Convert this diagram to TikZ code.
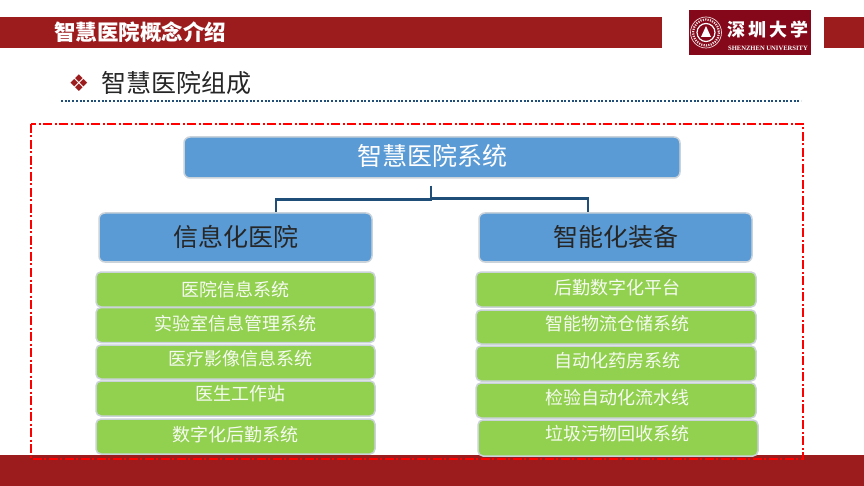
\documentclass[tikz,border=0pt]{standalone}
\usepackage{fontspec}
\setmainfont{Noto Sans CJK SC}
\newfontfamily\symfont{DejaVu Sans}
\newfontfamily\logofont{Liberation Serif}
\definecolor{barred}{HTML}{9C1C1E}
\definecolor{logored}{HTML}{85081A}
\definecolor{boxblue}{HTML}{5B9BD5}
\definecolor{boxgreen}{HTML}{92D050}
\definecolor{boxedge}{HTML}{CBD3DA}
\definecolor{linkblue}{HTML}{1F4E79}
\newcommand{\sizedfont}[1]{\fontsize{#1}{#1}\selectfont}
\newcommand{\offsettext}[3]{\hspace*{#1pt}\raisebox{#2pt}[0pt][0pt]{#3}}
\tikzset{
    bar/.style={fill=barred, draw=none},
    bluebox/.style={draw=boxedge, line width=1.5pt, fill=boxblue, rounded corners=6pt, inner sep=0pt},
    greenbox/.style={draw=boxedge, line width=1.5pt, fill=boxgreen, rounded corners=5pt, inner sep=0pt, minimum width=279, text=white!92!boxgreen, font=\sizedfont{18}},
    elbow/.style={draw=linkblue, line width=2.4pt}
}

\begin{document}
\begin{tikzpicture}[x=1pt, y=-1pt]
    \useasboundingbox (0,0) rectangle (864,486);
    \fill[white] (0,0) rectangle (864,486);
    \fill[bar] (0,17) rectangle (662,48);
    \fill[bar] (824,17) rectangle (864,48);
    \fill[bar] (0,455) rectangle (864,486);
    \node[text=white, font=\sizedfont{21.5}\bfseries, inner sep=0pt] (pagetitle) at (140,32) {智慧医院概念介绍};

    \fill[logored] (689,10) rectangle (811,55);
    \draw[white!85!logored, line width=0.7pt] (706,32.5) circle (15.5);
    \draw[white!85!logored, line width=2.2pt, dash pattern=on 1.2pt off 1.2pt] (706,32.5) circle (13);
    \draw[white, line width=1.2pt] (706,32.5) circle (9);
    \fill[white] (706,26) -- (711,37) -- (701,37) -- cycle;
    \node[text=white, font=\sizedfont{18}\bfseries, inner sep=0pt] (logoname) at (768,30) {深\hspace{3pt}圳\hspace{3pt}大\hspace{3pt}学};
    \node[text=white, font=\logofont\sizedfont{6.6}\bfseries, inner sep=0pt] (logosub) at (768,48) {SHENZHEN UNIVERSITY};

    \node[text=barred, font=\symfont\sizedfont{23}, inner sep=0pt] (bullet) at (79,83) {❖};
    \node[text=black!85, font=\sizedfont{25}, inner sep=0pt] (sectiontitle) at (176,83) {智慧医院组成};
    \coordinate (ruleleft) at (61,101.5);
    \coordinate (ruleright) at (801,101.5);
    \draw[linkblue, line width=2pt, dash pattern=on 2pt off 1.7pt] (ruleleft) -- (ruleright);

    \draw[red, line width=2pt, dash pattern=on 9pt off 2.5pt on 2pt off 2.5pt] (31,124) rectangle (803,458.5);

    \node[bluebox, minimum width=496, minimum height=41, text=white, font=\sizedfont{25}] (system) at (432,157.5) {\offsettext{0}{-8}{智慧医院系统}};
    \node[bluebox, minimum width=273, minimum height=49, text=black!85, font=\sizedfont{25}] (info) at (235.5,237.5) {\offsettext{0}{-9}{信息化医院}};
    \node[bluebox, minimum width=273, minimum height=49, text=black!85, font=\sizedfont{25}] (smart) at (615.5,237.5) {\offsettext{0}{-9}{智能化装备}};

    \coordinate (stub) at (431,186);
    \coordinate (dropinfo) at (276,212);
    \coordinate (dropsmart) at (588,212);
    \draw[elbow] (stub) -- (431,199.5) -| (dropinfo);
    \draw[elbow] (stub) -- (431,198.5) -| (dropsmart);

    \node[greenbox, minimum height=35] (info1) at (235.5,289.5) {\offsettext{0}{-7}{医院信息系统}};
    \node[greenbox, minimum height=35] (info2) at (235.5,325) {\offsettext{0}{-5}{实验室信息管理系统}};
    \node[greenbox, minimum height=34] (info3) at (235.5,362) {\offsettext{10}{-3}{医疗影像信息系统}};
    \node[greenbox, minimum height=35] (info4) at (235.5,398.5) {\offsettext{10}{-2}{医生工作站}};
    \node[greenbox, minimum height=35] (info5) at (235.5,436.5) {\offsettext{0}{-5}{数字化后勤系统}};

    \node[greenbox, minimum width=280, minimum height=35] (smart1) at (616,289.5) {\offsettext{2}{-5}{后勤数字化平台}};
    \node[greenbox, minimum width=280, minimum height=34] (smart2) at (616,327) {\offsettext{2}{-3}{智能物流仓储系统}};
    \node[greenbox, minimum width=280, minimum height=35] (smart3) at (616,363.5) {\offsettext{2}{-4}{自动化药房系统}};
    \node[greenbox, minimum width=280, minimum height=35] (smart4) at (616,400.5) {\offsettext{2}{-4}{检验自动化流水线}};
    \node[greenbox, minimum width=280, minimum height=36] (smart5) at (618,438) {\offsettext{-2}{-2}{垃圾污物回收系统}};
\end{tikzpicture}
\end{document}
